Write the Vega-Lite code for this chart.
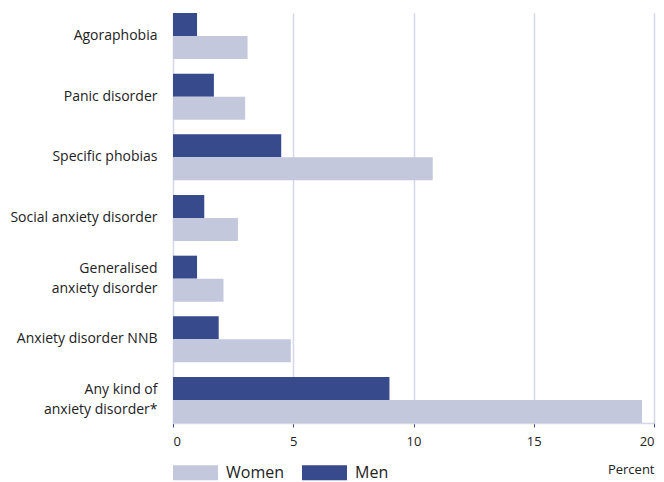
{
  "$schema": "https://vega.github.io/schema/vega-lite/v6.json",
  "width": 481,
  "height": 410,
  "autosize": {"type": "none"},
  "padding": {"left": 173, "top": 13, "right": 10, "bottom": 59},
  "background": "white",
  "config": {
    "font": "Open Sans",
    "view": {"stroke": null},
    "axis": {"labelColor": "#222222", "titleColor": "#222222"}
  },
  "data": {
    "values": [
      {"disorder": "Agoraphobia", "sex": "Men", "percent": 1.0},
      {"disorder": "Agoraphobia", "sex": "Women", "percent": 3.1},
      {"disorder": "Panic disorder", "sex": "Men", "percent": 1.7},
      {"disorder": "Panic disorder", "sex": "Women", "percent": 3.0},
      {"disorder": "Specific phobias", "sex": "Men", "percent": 4.5},
      {"disorder": "Specific phobias", "sex": "Women", "percent": 10.8},
      {"disorder": "Social anxiety disorder", "sex": "Men", "percent": 1.3},
      {"disorder": "Social anxiety disorder", "sex": "Women", "percent": 2.7},
      {"disorder": "Generalised anxiety disorder", "sex": "Men", "percent": 1.0},
      {"disorder": "Generalised anxiety disorder", "sex": "Women", "percent": 2.1},
      {"disorder": "Anxiety disorder NNB", "sex": "Men", "percent": 1.9},
      {"disorder": "Anxiety disorder NNB", "sex": "Women", "percent": 4.9},
      {"disorder": "Any kind of anxiety disorder*", "sex": "Men", "percent": 9.0},
      {"disorder": "Any kind of anxiety disorder*", "sex": "Women", "percent": 19.5}
    ]
  },
  "mark": {"type": "bar"},
  "encoding": {
    "y": {
      "field": "disorder",
      "type": "nominal",
      "sort": null,
      "scale": {"paddingInner": 0.242, "paddingOuter": 0},
      "axis": {
        "title": null,
        "ticks": false,
        "domain": true,
        "domainColor": "#d5d8e8",
        "labelFontSize": 14,
        "labelPadding": 16,
        "labelLineHeight": 20,
        "labelOffset": {
          "condition": {
            "test": "datum.value == 'Generalised anxiety disorder' || datum.value == 'Any kind of anxiety disorder*'",
            "value": -10
          },
          "value": 0
        },
        "labelExpr": "datum.value == 'Generalised anxiety disorder' ? ['Generalised ', 'anxiety disorder'] : datum.value == 'Any kind of anxiety disorder*' ? ['Any kind of ', 'anxiety disorder*'] : datum.value"
      }
    },
    "yOffset": {
      "field": "sex",
      "type": "nominal",
      "scale": {"domain": ["Men", "Women"], "paddingInner": 0, "paddingOuter": 0}
    },
    "x": {
      "field": "percent",
      "type": "quantitative",
      "scale": {"domain": [0, 20], "nice": false},
      "axis": {
        "values": [0, 5, 10, 15, 20],
        "title": "Percent",
        "titleFontSize": 13,
        "titleFontWeight": "normal",
        "titleAnchor": "end",
        "titleAlign": "right",
        "titleX": 481,
        "titleY": 50,
        "titleBaseline": "alphabetic",
        "grid": true,
        "gridColor": "#d5d8e8",
        "gridWidth": 1.5,
        "domainColor": "#d5d8e8",
        "domainWidth": 1.5,
        "tickColor": "#364a8c",
        "tickSize": 4,
        "labelFontSize": 13,
        "labelPadding": 8
      }
    },
    "color": {
      "field": "sex",
      "type": "nominal",
      "scale": {"domain": ["Women", "Men"], "range": ["#c3c8dc", "#364a8c"]},
      "legend": {
        "title": null,
        "orient": "none",
        "direction": "horizontal",
        "legendX": 0,
        "legendY": 437,
        "symbolType": "M-1,-0.333H1V0.333H-1Z",
        "symbolSize": 2025,
        "symbolStrokeWidth": 0,
        "labelFontSize": 16,
        "labelColor": "#222222",
        "labelOffset": 8,
        "columnPadding": 17,
        "symbolOpacity": 1
      }
    }
  }
}
